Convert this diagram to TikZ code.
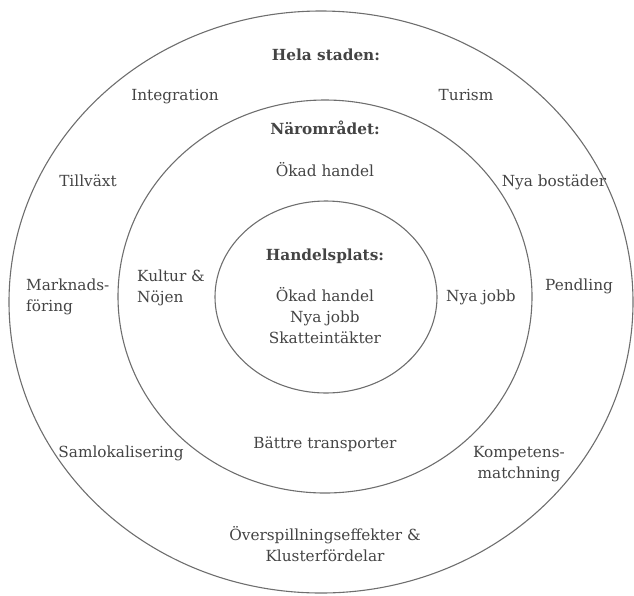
\documentclass[tikz,border=0pt]{standalone}
\usepackage{fontspec}
\setmainfont{DejaVu Serif}
\usetikzlibrary{shapes.geometric}

\definecolor{ringgray}{HTML}{6E6E6E}
\definecolor{txtgray}{HTML}{444444}

\begin{document}
\begin{tikzpicture}[
    x=1pt, y=-1pt,
    ring/.style={draw=ringgray, ellipse, line width=1.1pt, inner sep=0pt},
    lbl/.style={text=txtgray, anchor=base, inner sep=0pt, align=center,
      font=\fontsize{15.3}{21}\selectfont},
    head/.style={lbl, font=\fontsize{15.3}{21}\selectfont\bfseries}
  ]
  \useasboundingbox (0,0) rectangle (634,595);

  % the three zones
  \node[ring, minimum width=624pt, minimum height=582pt] (stad) at (321,302) {};
  \node[ring, minimum width=414pt, minimum height=393pt] (narom) at (325,296.5) {};
  \node[ring, minimum width=222pt, minimum height=192pt] (plats) at (326,297) {};

  % outer ring (multi-line texts sit on their last line)
  \node[head] (stadhead) at (326,60) {Hela staden:};
  \node[lbl] (integration) at (175,100) {Integration};
  \node[lbl] (turism) at (466,100) {Turism};
  \node[lbl] (tillvaxt) at (88,186) {Tillväxt};
  \node[lbl] (bostader) at (554,186) {Nya bostäder};
  \node[lbl, anchor=base west, align=left] (marknad) at (26,311) {Marknads-\\föring};
  \node[lbl] (pendling) at (579,290) {Pendling};
  \node[lbl] (samlok) at (121,457) {Samlokalisering};
  \node[lbl] (kompetens) at (519,478) {Kompetens-\\matchning};
  \node[lbl] (spill) at (325,561) {Överspillningseffekter \&\\Klusterfördelar};

  % middle ring
  \node[head] (naromhead) at (325,134) {Närområdet:};
  \node[lbl] (handel) at (325,176) {Ökad handel};
  \node[lbl, anchor=base west, align=left] (kultur) at (137,302) {Kultur \&\\Nöjen};
  \node[lbl] (jobb) at (481,301) {Nya jobb};
  \node[lbl] (transport) at (325,448) {Bättre transporter};

  % centre
  \node[head] (platshead) at (325,260) {Handelsplats:};
  \node[lbl] (platsinfo) at (325,343) {Ökad handel\\Nya jobb\\Skatteintäkter};
\end{tikzpicture}
\end{document}
